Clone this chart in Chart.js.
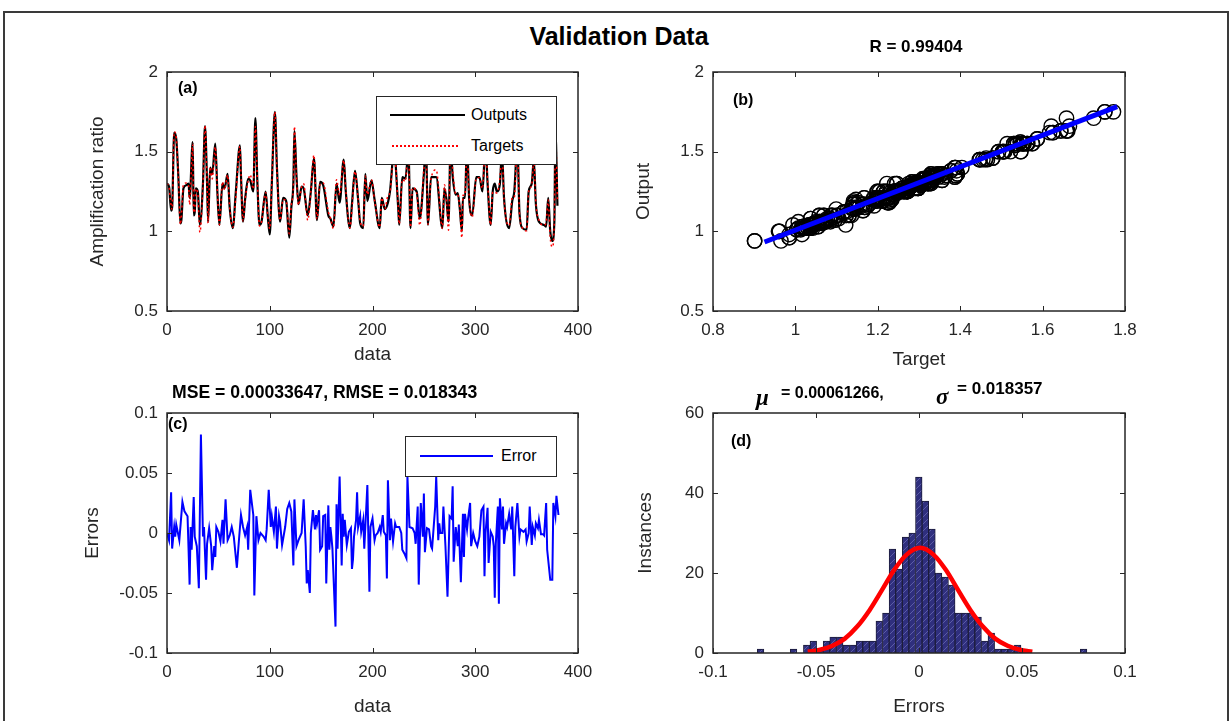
<!DOCTYPE html>
<html>
<head>
<meta charset="utf-8">
<script src="https://cdn.jsdelivr.net/npm/chart.js@4.4.0/dist/chart.umd.min.js"></script>
<style>
  body { margin:0; width:1232px; height:721px; overflow:hidden; position:relative; background:#fff;
         font-family:"Liberation Sans", Arial, sans-serif; }
  canvas { position:absolute; }
  #frame { position:absolute; left:3px; top:11px; width:1226px; height:800px; box-sizing:border-box;
           border:2px solid #3a3a3a; }
  .t { position:absolute; white-space:nowrap; color:#000; font-weight:bold; z-index:3; }
  .c { transform:translate(-50%,-50%); }
  .v { transform:translateY(-50%); }
  .sym { font-family:"Liberation Serif", "DejaVu Serif", serif; font-style:italic; font-size:23px; }
  .leg { position:absolute; background:#fff; border:1px solid #262626; box-sizing:border-box; z-index:3; }
  .ln { position:absolute; z-index:4; }
  .lt { position:absolute; z-index:4; font-size:16px; color:#000; transform:translateY(-50%); white-space:nowrap; }
</style>
</head>
<body>
<div id="frame"></div>

<div class="t c" style="left:619px;top:36px;font-size:25px;">Validation Data</div>
<div class="t c" style="left:916px;top:47px;font-size:17px;">R = 0.99404</div>
<div class="t v" style="left:172px;top:392px;font-size:17.6px;">MSE = 0.00033647, RMSE = 0.018343</div>
<div class="t v sym" style="left:756px;top:398px;">μ</div>
<div class="t v" style="left:781px;top:393px;font-size:16px;">= 0.00061266,</div>
<div class="t v sym" style="left:936px;top:397px;">σ</div>
<div class="t v" style="left:957px;top:389px;font-size:17px;">= 0.018357</div>

<div class="t v" style="left:178px;top:88px;font-size:16px;">(a)</div>
<div class="t v" style="left:733px;top:100px;font-size:16px;">(b)</div>
<div class="t v" style="left:168px;top:424px;font-size:16px;">(c)</div>
<div class="t v" style="left:731px;top:441px;font-size:16px;">(d)</div>

<div class="leg" style="left:376px;top:96px;width:181px;height:69px;"></div>
<div class="ln" style="left:390px;top:114px;width:75px;height:0;border-top:2px solid #000;"></div>
<div class="lt" style="left:471px;top:115px;">Outputs</div>
<div class="ln" style="left:392px;top:145px;width:66px;height:0;border-top:2px dotted #ff0000;"></div>
<div class="lt" style="left:471px;top:146px;">Targets</div>

<div class="leg" style="left:405px;top:436px;width:152px;height:41px;"></div>
<div class="ln" style="left:420px;top:455px;width:73px;height:0;border-top:2px solid #0000ff;"></div>
<div class="lt" style="left:501px;top:456px;">Error</div>

<script>
// (a) network outputs (sample index, value)
const outIdx = [0,2,4,5,7,9,11,13,14,16,19,21,22,25,26,27,28,30,32,35,37,39,40,42,44,47,49,51,54,56,59,61,64,67,71,72,74,76,79,81,84,86,88,90,92,96,98,100,102,105,107,110,113,116,119,121,123,124,126,128,131,133,137,140,143,146,149,152,157,159,162,165,168,172,174,178,180,183,186,188,191,193,195,199,202,207,209,212,215,217,221,225,226,229,232,235,237,239,243,246,250,252,254,257,262,268,270,272,274,276,278,281,283,285,287,288,290,292,294,297,301,304,307,310,312,315,317,319,321,324,326,328,333,336,338,341,343,346,350,352,355,357,359,362,367,369,371,373,375,377,378,380];
const outVals = [1.30,1.28,1.13,1.15,1.62,1.58,1.35,1.05,1.07,1.27,1.29,1.30,1.21,1.56,1.10,1.12,1.27,1.25,1.04,1.30,1.66,1.30,1.06,1.40,1.36,1.55,1.25,1.04,1.30,1.27,1.36,1.15,1.02,1.25,1.54,1.35,1.06,1.20,1.33,1.32,1.25,1.71,1.30,1.04,1.06,1.25,1.10,0.98,1.30,1.75,1.40,1.06,1.21,1.19,0.96,1.15,1.31,1.63,1.35,1.17,1.28,1.27,1.10,1.25,1.46,1.07,1.31,1.29,1.10,1.08,1.03,1.30,1.18,1.45,1.25,1.02,1.17,1.38,1.20,1.05,1.02,1.36,1.19,1.32,1.20,1.02,1.21,1.14,1.18,1.25,1.50,1.15,1.04,1.34,1.33,1.50,1.02,1.27,1.25,1.08,1.36,1.55,1.04,1.34,1.34,1.02,1.27,1.20,1.06,1.55,1.35,1.23,1.24,1.14,1.00,1.21,1.21,1.55,1.21,1.10,1.34,1.34,1.25,1.55,1.30,1.04,1.25,1.30,1.25,1.30,1.50,1.21,1.02,1.19,1.25,1.55,1.12,1.02,1.01,1.25,1.30,1.45,1.17,1.06,1.04,1.03,1.21,1.00,0.94,1.06,1.63,1.16];

// (c) errors (sample index, value)
const errIdx = [0,2,4,5,7,8,9,12,15,17,20,21,22,23,24,26,27,29,31,33,35,36,38,39,41,43,44,46,47,48,50,52,54,55,57,59,61,63,65,68,70,72,74,76,78,79,81,84,85,87,89,91,94,96,97,99,101,102,104,106,107,109,110,112,115,117,119,121,123,124,126,128,131,133,135,136,137,139,140,142,144,145,146,148,149,151,152,154,155,157,158,159,160,161,164,165,166,168,170,171,172,173,175,177,179,180,181,182,184,185,186,188,189,191,192,195,197,198,200,202,203,205,207,208,210,211,213,214,215,217,218,220,222,223,226,228,229,231,233,234,236,239,241,242,244,245,247,249,250,251,253,255,257,258,261,262,264,265,266,268,269,271,273,275,277,278,279,281,283,284,286,288,289,290,292,293,295,296,298,300,302,304,306,308,309,310,312,313,315,317,318,319,320,322,323,324,326,327,328,330,331,333,335,336,338,339,341,343,344,347,349,350,352,353,355,356,358,359,361,362,364,366,367,369,370,373,375,376,378,379,381];
const errVals = [0.000,-0.006,0.034,-0.013,0.005,-0.003,0.007,-0.006,0.026,0.018,0.014,-0.014,-0.043,0.005,-0.014,0.030,-0.003,-0.011,-0.046,0.082,-0.003,0.005,-0.039,-0.009,0.004,-0.011,-0.031,-0.011,-0.020,0.005,0.001,-0.007,0.011,-0.009,0.028,-0.006,-0.002,0.005,-0.003,-0.029,-0.006,0.015,0.005,-0.002,0.005,-0.014,0.036,0.015,-0.052,0.014,-0.006,0.000,-0.003,-0.006,0.003,0.036,0.005,0.014,0.001,0.022,-0.013,0.014,0.009,-0.010,0.005,0.020,0.025,0.018,-0.027,0.028,-0.011,-0.006,0.000,0.028,-0.011,-0.042,-0.031,-0.050,0.000,0.019,0.003,0.015,0.008,0.019,-0.014,-0.011,0.014,0.015,-0.042,0.023,-0.014,0.005,-0.003,-0.013,-0.078,0.024,-0.013,0.047,-0.027,0.016,-0.003,0.011,-0.010,0.001,0.004,-0.030,-0.022,-0.003,0.011,0.034,0.005,0.014,0.001,0.011,-0.013,0.040,-0.049,0.005,0.012,-0.006,-0.002,0.000,0.005,0.001,0.015,0.001,-0.002,-0.038,0.044,-0.006,0.012,-0.007,0.008,0.005,0.005,0.000,-0.014,-0.017,-0.021,0.047,0.005,0.004,0.000,-0.009,0.022,-0.043,0.025,-0.003,0.033,-0.016,0.004,0.003,-0.011,-0.013,0.022,0.047,-0.006,0.008,0.000,0.000,0.022,-0.011,-0.053,0.014,0.012,0.039,-0.024,0.005,-0.011,0.007,-0.041,0.016,-0.020,0.016,0.003,0.012,0.025,-0.011,0.000,-0.007,-0.011,-0.003,0.019,0.022,-0.036,0.000,0.021,-0.025,0.001,-0.003,-0.011,-0.054,-0.009,0.022,-0.059,0.029,0.003,0.022,-0.009,0.008,0.005,0.016,0.003,0.022,-0.036,0.005,0.025,-0.003,0.003,0.001,0.003,-0.007,0.000,0.022,-0.010,0.005,-0.002,0.008,0.004,0.011,-0.001,-0.001,-0.002,0.025,-0.014,-0.039,-0.039,0.025,0.014,0.031,0.015];

// (b) regression fit line
const fitX = [0.925, 1.781];
const fitY = [0.933, 1.783];

// (d) error histogram: 50 bins, counts
const binStart = -0.0769;
const binWidth = 0.0032;
const binCounts = [1,0,0,0,0,1,0,2,3,1,3,4,4,2,2,3,3,3,8,10,26,21,29,30,44,38,31,20,19,17,10,10,10,9,3,5,1,1,1,2,1,0,0,0,0,0,0,0,0,1];
// normal fit curve
const gaussX = [-0.054,-0.048,-0.042,-0.036,-0.030,-0.024,-0.018,-0.012,-0.006,0.0006,0.007,0.013,0.019,0.025,0.031,0.037,0.043,0.049,0.055];
const gaussY = [0.3,0.8,1.8,3.6,6.6,10.7,15.7,20.8,24.6,26.3,24.6,20.8,15.7,10.7,6.6,3.6,1.8,0.8,0.3];

// pair outputs with the error read nearest to the same sample
function nearest(xs, ys, x) {
  let bi = 0;
  for (let i = 1; i < xs.length; i++) if (Math.abs(xs[i] - x) < Math.abs(xs[bi] - x)) bi = i;
  return ys[bi];
}
const targetVals = outIdx.map((x, i) => outVals[i] + nearest(errIdx, errVals, x));
const scatterPts = outIdx.map((x, i) => ({ x: targetVals[i], y: outVals[i] }))
  .concat(errIdx.map((x, i) => { const y = nearest(outIdx, outVals, x); return { x: y + errVals[i], y }; }));

Chart.defaults.font.family = "'Liberation Sans', Arial, sans-serif";
Chart.defaults.color = '#262626';

// matlab style box with inward ticks
const boxPlugin = {
  id: 'box',
  afterDraw(chart) {
    const { ctx, chartArea: a, scales } = chart;
    ctx.save();
    ctx.strokeStyle = '#262626';
    ctx.lineWidth = 1.5;
    ctx.strokeRect(a.left, a.top, a.right - a.left, a.bottom - a.top);
    ctx.beginPath();
    scales.x.ticks.forEach(t => {
      const px = Math.round(scales.x.getPixelForValue(t.value)) + 0.5;
      ctx.moveTo(px, a.bottom); ctx.lineTo(px, a.bottom - 5);
      ctx.moveTo(px, a.top); ctx.lineTo(px, a.top + 5);
    });
    scales.y.ticks.forEach(t => {
      const py = Math.round(scales.y.getPixelForValue(t.value)) + 0.5;
      ctx.moveTo(a.left, py); ctx.lineTo(a.left + 5, py);
      ctx.moveTo(a.right, py); ctx.lineTo(a.right - 5, py);
    });
    ctx.lineWidth = 1;
    ctx.stroke();
    ctx.restore();
  }
};

function lin(min, max, step, title, tpad) {
  return {
    type: 'linear', min, max, offset: false,
    grid: { display: false, drawTicks: false }, border: { display: false },
    ticks: { stepSize: step, padding: 9, maxRotation: 0, autoSkip: false, font: { size: 17 }, color: '#262626',
             callback: v => String(Math.round(v * 1000) / 1000) },
    title: { display: true, text: title, font: { size: 19 }, color: '#262626', padding: tpad }
  };
}

function panel(area, pad, type, datasets, xs, ys) {
  const c = document.createElement('canvas');
  c.width = area.r - area.l + pad.l + pad.r;
  c.height = area.b - area.t + pad.t + pad.b;
  c.style.left = (area.l - pad.l) + 'px';
  c.style.top = (area.t - pad.t) + 'px';
  document.body.appendChild(c);
  xs.afterFit = s => { s.height = pad.b; };
  ys.afterFit = s => { s.width = pad.l; };
  return new Chart(c, {
    type,
    data: { datasets },
    options: {
      responsive: false, animation: false, devicePixelRatio: 1,
      layout: { padding: { top: pad.t, right: pad.r, left: 0, bottom: 0 } },
      plugins: { legend: { display: false }, tooltip: { enabled: false } },
      scales: { x: xs, y: ys }
    },
    plugins: [boxPlugin]
  });
}

// (a) outputs and targets
panel({ l: 167, t: 72, r: 578, b: 311 }, { l: 100, t: 20, r: 30, b: 61 }, 'line', [
  { data: outIdx.map((x, i) => ({ x, y: targetVals[i] })), borderColor: '#ff0000', borderWidth: 1.5,
    borderDash: [2, 3], pointRadius: 0, cubicInterpolationMode: 'monotone' },
  { data: outIdx.map((x, i) => ({ x, y: outVals[i] })), borderColor: '#000000', borderWidth: 2.2, pointRadius: 0,
    cubicInterpolationMode: 'monotone' }
], lin(0, 400, 100, 'data', { top: 0, bottom: 6 }), lin(0.5, 2, 0.5, 'Amplification ratio', { top: 19, bottom: 0 }));

// (b) regression
panel({ l: 713, t: 72, r: 1125, b: 311 }, { l: 100, t: 20, r: 40, b: 61 }, 'scatter', [
  { type: 'line', data: fitX.map((x, i) => ({ x, y: fitY[i] })), showLine: true, borderColor: '#0000ff',
    borderWidth: 5, pointRadius: 0, order: 0 },
  { data: scatterPts, pointRadius: 7.2, pointBorderColor: '#000', pointBackgroundColor: 'rgba(0,0,0,0)',
    pointBorderWidth: 1.4, order: 1 }
], lin(0.8, 1.8, 0.2, 'Target', { top: 0, bottom: 1 }), lin(0.5, 2, 0.5, 'Output', { top: 19, bottom: 0 }));

// (c) errors
panel({ l: 167, t: 413, r: 578, b: 653 }, { l: 100, t: 20, r: 30, b: 66 }, 'line', [
  { data: errIdx.map((x, i) => ({ x, y: errVals[i] })), borderColor: '#0000ff', borderWidth: 2, pointRadius: 0 }
], lin(0, 400, 100, 'data', { top: 0, bottom: 1 }), lin(-0.1, 0.1, 0.05, 'Errors', { top: 14, bottom: 0 }));

// (d) histogram with hatch fill
const pc = document.createElement('canvas');
pc.width = 7; pc.height = 7;
const pg = pc.getContext('2d');
pg.fillStyle = '#2f2f7e'; pg.fillRect(0, 0, 7, 7);
pg.strokeStyle = '#5c5ca6'; pg.lineWidth = 1;
pg.beginPath(); pg.moveTo(0, 7); pg.lineTo(7, 0); pg.stroke();
const hatch = pg.createPattern(pc, 'repeat');

panel({ l: 713, t: 413, r: 1125, b: 653 }, { l: 100, t: 20, r: 40, b: 66 }, 'bar', [
  { type: 'line', data: gaussX.map((x, i) => ({ x, y: gaussY[i] })), borderColor: '#ff0000', borderWidth: 4.5,
    pointRadius: 0, cubicInterpolationMode: 'monotone', order: 0 },
  { type: 'bar', data: binCounts.map((n, i) => ({ x: binStart + i * binWidth, y: n })), backgroundColor: hatch,
    borderColor: '#1c1c3a', borderWidth: 1, barPercentage: 1, categoryPercentage: 1, grouped: false, order: 1 }
], lin(-0.1, 0.1, 0.05, 'Errors', { top: 0, bottom: 1 }), lin(0, 60, 20, 'Instances', { top: 21, bottom: 0 }));
</script>
</body>
</html>
